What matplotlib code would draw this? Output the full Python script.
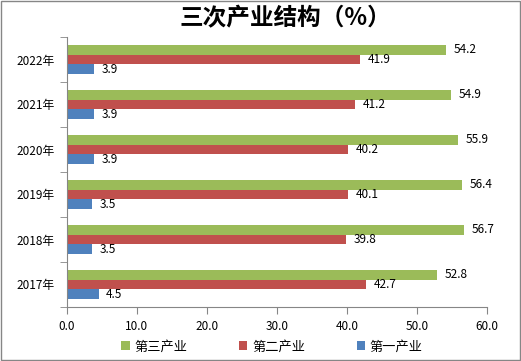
import numpy as np
import matplotlib.pyplot as plt
from matplotlib.patches import Rectangle

plt.rcParams['font.family'] = ['Noto Sans CJK SC', 'DejaVu Sans']

years = ['2017年', '2018年', '2019年', '2020年', '2021年', '2022年']
primary = [4.5, 3.5, 3.5, 3.9, 3.9, 3.9]      # 第一产业
secondary = [42.7, 39.8, 40.1, 40.2, 41.2, 41.9]  # 第二产业
tertiary = [52.8, 56.7, 56.4, 55.9, 54.9, 54.2]   # 第三产业

c_green = '#9BBB59'
c_red = '#C0504D'
c_blue = '#4F81BD'
c_axis = '#868686'

fig = plt.figure(figsize=(5.21, 3.61), dpi=100)
ax = fig.add_axes([67/521, 1-307/361, 420/521, 270/361])

y = np.arange(len(years))
h = 0.222
ax.barh(y + h, tertiary, h, color=c_green, label='第三产业')
ax.barh(y, secondary, h, color=c_red, label='第二产业')
ax.barh(y - h, primary, h, color=c_blue, label='第一产业')

fs = 8.5
for i in range(len(years)):
    ax.text(tertiary[i] + 1.1, y[i] + h, '%.1f' % tertiary[i], va='center', fontsize=fs)
    ax.text(secondary[i] + 1.1, y[i], '%.1f' % secondary[i], va='center', fontsize=fs)
    ax.text(primary[i] + 1.1, y[i] - h, '%.1f' % primary[i], va='center', fontsize=fs)

ax.set_xlim(0, 60)
ax.set_ylim(-0.5, len(years) - 0.5)
ax.set_xticks(np.arange(0, 61, 10))
ax.set_xticklabels(['%.1f' % v for v in np.arange(0, 61, 10)], fontsize=fs)
ax.set_yticks(y)
ax.set_yticklabels(years, fontsize=fs)
ax.set_yticks(np.arange(-0.5, len(years)), minor=True)
ax.tick_params(axis='y', which='major', length=0, pad=9)
ax.tick_params(axis='y', which='minor', length=5, color=c_axis)
ax.tick_params(axis='x', length=5, color=c_axis, pad=4)

for s in ['top', 'right']:
    ax.spines[s].set_visible(False)
for s in ['left', 'bottom']:
    ax.spines[s].set_color(c_axis)

fig.text(285/521, 1-18/361, '三次产业结构（%）', ha='center', va='center',
         fontsize=17, fontweight='bold')

handles, labels = ax.get_legend_handles_labels()
fig.legend(handles, labels, loc='center', bbox_to_anchor=(272/521, 1-347/361),
           ncol=3, frameon=False, fontsize=9.5, handlelength=0.65, handleheight=0.65,
           columnspacing=3.9, handletextpad=0.35)

fig.patches.append(Rectangle((0.002, 0.003), 0.996, 0.994, transform=fig.transFigure,
                             fill=False, edgecolor=c_axis, linewidth=1))

fig.savefig('out.png', dpi=100)
